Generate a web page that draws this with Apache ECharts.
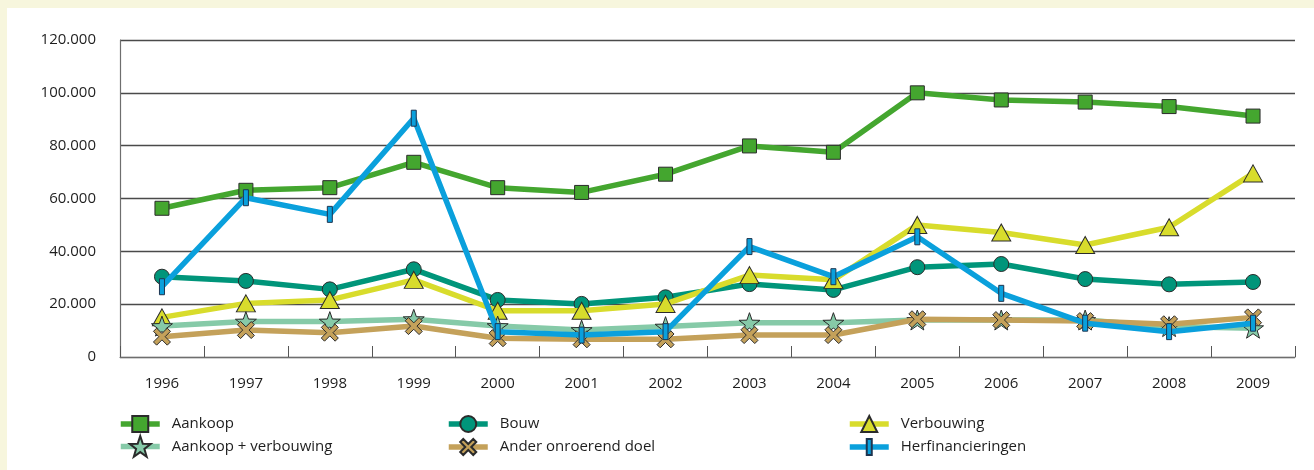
<!DOCTYPE html>
<html>
<head>
<meta charset="utf-8">
<script src="https://cdn.jsdelivr.net/npm/echarts@6/dist/echarts.min.js"></script>
<style>
html,body{margin:0;padding:0;background:#f7f6dd;}
#panel{position:absolute;left:7px;top:8px;width:1307px;height:462px;background:#ffffff;}
#chart{position:absolute;left:0;top:0;width:1314px;height:470px;}
</style>
</head>
<body>
<div id="panel"></div>
<div id="chart"></div>
<script>
const years = ['1996','1997','1998','1999','2000','2001','2002','2003','2004','2005','2006','2007','2008','2009'];
const yTicks = [0, 20000, 40000, 60000, 80000, 100000, 120000];
const aankoop = [56300, 63100, 64100, 73700, 64100, 62300, 69200, 79900, 77500, 100000, 97300, 96500, 94800, 91200];
const bouw = [30400, 28800, 25600, 33200, 21600, 20100, 22600, 27600, 25400, 34000, 35200, 29500, 27500, 28400];
const verbouwing = [15000, 20300, 21600, 29200, 17500, 17500, 20100, 31000, 29200, 50000, 47100, 42400, 49100, 69500];
const aankoopVerbouwing = [11700, 13400, 13400, 14300, 11700, 10200, 11500, 13000, 13000, 14000, 14000, 14000, 11500, 10900];
const anderDoel = [7700, 10200, 9200, 11700, 7100, 6700, 6700, 8300, 8300, 14300, 14000, 13600, 12400, 15000];
const herfinancieringen = [26600, 60300, 54000, 90400, 9600, 8300, 9600, 41800, 30400, 45500, 24100, 12800, 9600, 12800];

const FONT = '"Open Sans", "Noto Sans", sans-serif';
const STAR = 'path://M10,0 L12.35,6.76 L19.51,6.91 L13.8,11.24 L15.88,18.09 L10,14 L4.12,18.09 L6.2,11.24 L0.49,6.91 L7.65,6.76 Z';
const CROSS = 'path://M0,3 L3,0 L8,5 L13,0 L16,3 L11,8 L16,13 L13,16 L8,11 L3,16 L0,13 L5,8 Z';
// narrow bar inside a square box (zero-length sub-paths widen the box so the legend keeps the bar shape)
const BAR = 'path://M5.5,0 L10.5,0 L10.5,16 L5.5,16 Z M0,0 L0,0 M16,16 L16,16';

function fmt(v){ return String(v).replace(/\B(?=(\d{3})+(?!\d))/g, '.'); }

function mkSeries(name, data, color, symbol, size, z, border){
  return {
    name: name, type: 'line', data: data, z: z,
    symbol: symbol, symbolSize: size, symbolKeepAspect: true,
    showAllSymbol: true,
    lineStyle: { color: color, width: 5.5 },
    itemStyle: { color: color, borderColor: border || '#2b2b2b', borderWidth: 1 },
    emphasis: { disabled: true },
    animation: false
  };
}

const series = [
  mkSeries('Aankoop', aankoop, '#44a62f', 'rect', 14, 2),
  mkSeries('Bouw', bouw, '#00957a', 'circle', 15, 3),
  mkSeries('Verbouwing', verbouwing, '#d8dc2c', 'triangle', [19, 17], 4),
  mkSeries('Aankoop + verbouwing', aankoopVerbouwing, '#86caa8', STAR, 21, 5),
  mkSeries('Ander onroerend doel', anderDoel, '#c4a15a', CROSS, 17, 6),
  mkSeries('Herfinancieringen', herfinancieringen, '#0aa0dc', BAR, 16, 7, '#1d3550')
];

const legendPos = [
  {name:'Aankoop', left:118, top:415, h:20},
  {name:'Bouw', left:446, top:415, h:20},
  {name:'Verbouwing', left:847, top:415, h:20},
  {name:'Aankoop + verbouwing', left:118, top:435, h:26},
  {name:'Ander onroerend doel', left:446, top:438, h:20},
  {name:'Herfinancieringen', left:847, top:438, h:20}
];

const legends = legendPos.map(p => ({
  data: [p.name], left: p.left, top: p.top, padding: 0,
  itemWidth: 39, itemHeight: p.h, selectedMode: false,
  lineStyle: { width: 5.5 },
  textStyle: { fontFamily: FONT, fontSize: 15, color: '#1e1e1e', padding: [0,0,0,7] }
}));

const chart = echarts.init(document.getElementById('chart'), null, { renderer: 'canvas' });
chart.setOption({
  backgroundColor: 'transparent',
  animation: false,
  legend: legends,
  grid: { left: 120, right: 19, top: 40, bottom: 113, containLabel: false },
  xAxis: {
    type: 'category', data: years, boundaryGap: true,
    axisLine: { lineStyle: { color: '#6e6e6e', width: 1.2 } },
    axisTick: { show: true, inside: true, length: 11, lineStyle: { color: '#555' }, alignWithLabel: false },
    axisLabel: { fontFamily: FONT, fontSize: 15, color: '#1e1e1e', margin: 19 },
    splitLine: { show: false }
  },
  yAxis: {
    type: 'value', min: yTicks[0], max: yTicks[yTicks.length-1], interval: yTicks[1]-yTicks[0],
    axisLine: { show: true, lineStyle: { color: '#6e6e6e', width: 1.2 } },
    axisTick: { show: false },
    axisLabel: { fontFamily: FONT, fontSize: 15, color: '#1e1e1e', margin: 24, formatter: fmt },
    splitLine: { show: true, lineStyle: { color: '#4a4a4a', width: 1.3 } }
  },
  series: series
});
</script>
</body>
</html>
